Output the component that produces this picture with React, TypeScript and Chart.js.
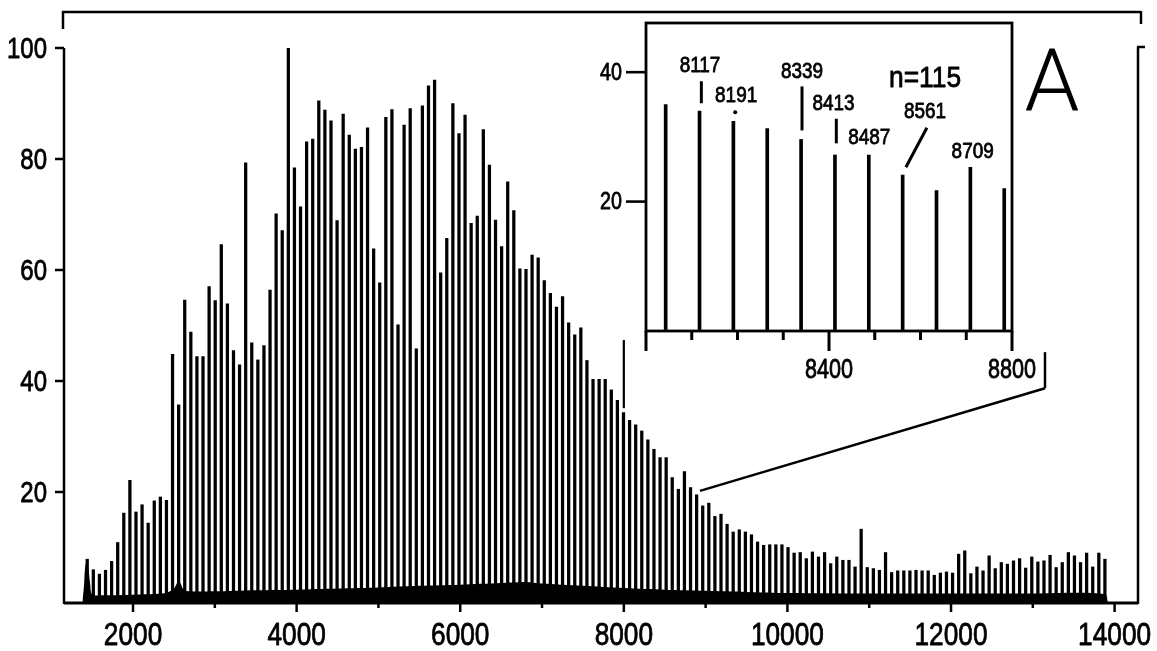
import React, { useEffect, useRef } from "react";
import { Chart, registerables } from "chart.js";

Chart.register(...registerables);

// ---------- main spectrum data ----------
const PEAK_FIRST_MASS = 1440; // mass of first peak (Da)
const PEAK_SPACING = 74.5; // ladder spacing as read on the main axis
const PEAK_HEIGHTS = [
  7.9, 6.0, 5.2, 5.9, 7.5, 10.9, 16.2, 22.1, 16.4, 17.7, 14.4, 18.4, 19.1, 18.5,
  44.8, 35.7, 54.6, 48.8, 44.4, 44.4, 57.0, 54.5, 64.6, 53.9, 45.5, 42.9,
  79.3, 46.9, 43.8, 46.4, 56.4, 70.1, 67.1, 100, 78.4, 71.4, 83.1, 83.6, 90.5,
  88.8, 86.9, 68.9, 88.1, 84.3, 81.8, 82.1, 85.6, 63.8, 57.7, 87.5, 88.9, 50.1,
  86.1, 89.1, 45.8, 89.6, 93.2, 94.2, 59.5, 65.7, 90.0, 84.6, 87.9, 68.4, 69.7,
  85.3, 78.9, 69.0, 64.2, 75.9, 70.7, 60.2, 60.1, 62.7, 62.2, 58.1, 55.8, 53.3,
  55.2, 50.5, 48.3, 49.6, 43.7, 40.3, 40.3, 40.3, 38.4, 36.5, 34.3, 32.9, 32.1,
  31.0, 29.4, 27.7, 26.2, 26.2, 22.6, 20.5, 23.7, 20.8, 19.5, 17.5, 18.0, 15.6,
  16.0, 14.2, 12.8, 13.2, 12.8, 12.3, 11.0, 10.4, 10.5, 10.5, 10.5, 10.0, 9.0,
  9.1, 8.0, 9.2, 8.3, 9.1, 7.1, 8.3, 7.7, 7.7, 6.5, 13.3, 6.4, 6.2, 5.9, 9.1,
  5.5, 5.8, 5.8, 5.8, 5.9, 5.8, 5.8, 5.0, 5.4, 5.6, 5.4, 8.8, 9.4, 5.3, 6.5,
  5.8, 8.5, 6.2, 7.3, 7.0, 7.6, 8.0, 6.3, 8.3, 7.4, 7.6, 8.6, 6.4, 7.3, 9.1,
  8.5, 7.3, 9.0, 6.5, 9.0, 7.9,
];

// baseline "grass" envelope
const NOISE_MASSES = [
  1380, 1400, 1420, 1450, 1475, 1500, 1600, 2000, 2400, 2500, 2560, 2620, 2700,
  3000, 3500, 4000, 4500, 5000, 5500, 6000, 6500, 6800, 7000, 7500, 8000, 8500,
  9000, 9500, 10000, 11000, 12000, 13000, 13880, 13920,
];
const NOISE_LEVELS = [
  0, 3, 7, 6.5, 3.5, 1.5, 1.4, 1.5, 1.8, 2.6, 4.0, 2.4, 2.1, 2.1, 2.3, 2.4, 2.6,
  2.8, 3.1, 3.3, 3.6, 3.8, 3.5, 3.1, 2.7, 2.4, 2.2, 2.0, 1.8, 1.7, 1.7, 1.7, 1.6,
  0,
];

const X_MIN = 1156;
const X_MAX = 14286;
const X_TICKS = [2000, 3000, 4000, 5000, 6000, 7000, 8000, 9000, 10000, 11000, 12000, 13000, 14000];
const X_LABELS = [2000, 4000, 6000, 8000, 10000, 12000, 14000];
const Y_TICKS = [20, 40, 60, 80, 100];

// callout (in main data units): bracket + connector line
const CALLOUT_LEFT = { mass: 8000, from: 47.4, to: 35.1 };
const CALLOUT_RIGHT = { mass: 13149, from: 45.2, to: 38.7 };
const CALLOUT_END = { mass: 8931, value: 20.2 };

// ---------- inset data ----------
const INSET_MASSES = [8043, 8117, 8191, 8265, 8339, 8413, 8487, 8561, 8635, 8709, 8783];
const INSET_HEIGHTS = [35.0, 34.0, 32.4, 31.3, 29.6, 27.2, 27.2, 24.1, 21.7, 25.3, 22.0];
const INSET_X_TICKS = [8000, 8100, 8200, 8300, 8400, 8500, 8600, 8700, 8800];
const INSET_X_LABELS = [8400, 8800];
const INSET_Y_TICKS = [20, 40];
const INSET_LABEL_TEXTS = ["8117", "8191", "8339", "8413", "8487", "8561", "8709"];
const INSET_LABEL_MASSES = [8118, 8197, 8341, 8410, 8488, 8610, 8714];
const INSET_LABEL_VALUES = [40.9, 36.4, 40.1, 35.1, 29.9, 33.8, 27.6];
const INSET_MARKERS = [
  { m1: 8121, v1: 38.6, m2: 8121, v2: 35.2 },
  { m1: 8341, v1: 37.8, m2: 8341, v2: 31.0 },
  { m1: 8416, v1: 32.8, m2: 8416, v2: 29.0 },
  { m1: 8614, v1: 31.4, m2: 8568, v2: 25.3 },
];
const INSET_DOT = { mass: 8195, value: 33.8 };
const INSET_N_TEXT = "n=115";
const INSET_N_POS = { mass: 8610, value: 39.0 };
const PANEL_LETTER = "A";

const SANS = '"Liberation Sans", Arial, sans-serif';

function seg(ctx: CanvasRenderingContext2D, x1: number, y1: number, x2: number, y2: number, w = 2.5) {
  ctx.lineWidth = w;
  ctx.beginPath();
  ctx.moveTo(x1, y1);
  ctx.lineTo(x2, y2);
  ctx.stroke();
}

// horizontally condensed text (narrow grotesque look), slightly emboldened like the scan
function cText(
  ctx: CanvasRenderingContext2D,
  text: string,
  x: number,
  y: number,
  size: number,
  sx: number,
  align: CanvasTextAlign
) {
  ctx.save();
  ctx.font = `${size}px ${SANS}`;
  ctx.textAlign = align;
  ctx.textBaseline = "middle";
  ctx.translate(x, y);
  ctx.scale(sx, 1);
  ctx.fillText(text, 0, 0);
  ctx.lineWidth = 0.8;
  ctx.lineJoin = "round";
  ctx.strokeText(text, 0, 0);
  ctx.restore();
}

const mainDecor = {
  id: "mainDecor",
  afterDraw(chart: any) {
    const { ctx, chartArea: a, scales } = chart;
    const xs = scales.x;
    const ys = scales.y;
    ctx.save();
    ctx.strokeStyle = "#000";
    ctx.fillStyle = "#000";
    ctx.lineCap = "butt";
    // frame
    seg(ctx, a.left - 2, a.top - 36, a.right + 3, a.top - 36, 2.5);
    seg(ctx, a.left - 1, a.top - 37, a.left - 1, a.top - 19, 2.5);
    seg(ctx, a.right + 3, a.top - 37, a.right + 3, a.top - 24, 2.5);
    seg(ctx, a.left, a.top, a.left, a.bottom + 1, 2.5);
    seg(ctx, a.right, a.top - 1, a.right, a.bottom + 1, 2.5);
    seg(ctx, a.right - 1, a.top - 1, a.right + 7, a.top - 1, 2.5);
    seg(ctx, a.left, a.bottom, a.right, a.bottom, 3);
    // y ticks + labels
    Y_TICKS.forEach((v) => {
      const y = ys.getPixelForValue(v);
      seg(ctx, a.left - 9, y, a.left, y, 2.5);
      cText(ctx, String(v), a.left - 17, y + 2, 30, 0.8, "right");
    });
    // x ticks + labels
    X_TICKS.forEach((m) => {
      const x = xs.getPixelForValue(m);
      const major = X_LABELS.includes(m);
      seg(ctx, x, a.bottom, x, a.bottom + (major ? 9 : 5), 2.5);
    });
    X_LABELS.forEach((m) => {
      cText(ctx, String(m), xs.getPixelForValue(m), a.bottom + 33, 32, 0.82, "center");
    });
    // callout
    const lx = xs.getPixelForValue(CALLOUT_LEFT.mass);
    seg(ctx, lx, ys.getPixelForValue(CALLOUT_LEFT.from), lx, ys.getPixelForValue(CALLOUT_LEFT.to), 2.2);
    const rx = xs.getPixelForValue(CALLOUT_RIGHT.mass);
    seg(ctx, rx, ys.getPixelForValue(CALLOUT_RIGHT.from), rx, ys.getPixelForValue(CALLOUT_RIGHT.to), 2.5);
    seg(
      ctx,
      rx,
      ys.getPixelForValue(CALLOUT_RIGHT.to),
      xs.getPixelForValue(CALLOUT_END.mass),
      ys.getPixelForValue(CALLOUT_END.value),
      2.5
    );
    // panel letter
    ctx.font = `300 88px Roboto, "Liberation Sans", sans-serif`;
    ctx.textAlign = "center";
    ctx.textBaseline = "alphabetic";
    ctx.fillText(PANEL_LETTER, a.right - 86, a.top + 62);
    ctx.restore();
  },
};

const insetDecor = {
  id: "insetDecor",
  afterDraw(chart: any) {
    const { ctx, chartArea: a, scales } = chart;
    const xs = scales.x;
    const ys = scales.y;
    ctx.save();
    ctx.strokeStyle = "#000";
    ctx.fillStyle = "#000";
    ctx.lineWidth = 2.8;
    ctx.strokeRect(a.left, a.top, a.right - a.left, a.bottom - a.top);
    // y ticks + labels
    INSET_Y_TICKS.forEach((v) => {
      const y = ys.getPixelForValue(v);
      seg(ctx, a.left - 20, y, a.left, y, 2.6);
      cText(ctx, String(v), a.left - 24, y + 1, 24, 0.82, "right");
    });
    // x ticks
    INSET_X_TICKS.forEach((m) => {
      const x = xs.getPixelForValue(m);
      const major = m % 400 === 0;
      seg(ctx, x, a.bottom, x, a.bottom + (major ? 20 : 9), 3);
    });
    INSET_X_LABELS.forEach((m) => {
      cText(ctx, String(m), xs.getPixelForValue(m), a.bottom + 40, 27, 0.8, "center");
    });
    // peak labels
    INSET_LABEL_TEXTS.forEach((t, i) => {
      cText(
        ctx,
        t,
        xs.getPixelForValue(INSET_LABEL_MASSES[i]),
        ys.getPixelForValue(INSET_LABEL_VALUES[i]),
        22,
        0.86,
        "center"
      );
    });
    INSET_MARKERS.forEach((mk) => {
      seg(
        ctx,
        xs.getPixelForValue(mk.m1),
        ys.getPixelForValue(mk.v1),
        xs.getPixelForValue(mk.m2),
        ys.getPixelForValue(mk.v2),
        3
      );
    });
    ctx.beginPath();
    ctx.arc(xs.getPixelForValue(INSET_DOT.mass), ys.getPixelForValue(INSET_DOT.value), 2, 0, Math.PI * 2);
    ctx.fill();
    cText(
      ctx,
      INSET_N_TEXT,
      xs.getPixelForValue(INSET_N_POS.mass),
      ys.getPixelForValue(INSET_N_POS.value),
      30,
      0.88,
      "center"
    );
    ctx.restore();
  },
};

export default function App() {
  const mainRef = useRef<HTMLCanvasElement>(null);
  const insetRef = useRef<HTMLCanvasElement>(null);

  useEffect(() => {
    const peaks = PEAK_HEIGHTS.map((h, i) => ({ x: PEAK_FIRST_MASS + i * PEAK_SPACING, y: h }));
    const noise = NOISE_MASSES.map((m, i) => ({ x: m, y: NOISE_LEVELS[i] }));
    const main = new Chart(mainRef.current as HTMLCanvasElement, {
      type: "bar",
      data: {
        datasets: [
          {
            type: "line",
            data: noise,
            fill: "origin",
            backgroundColor: "#000",
            borderColor: "#000",
            borderWidth: 0,
            pointRadius: 0,
            tension: 0.3,
          } as any,
          {
            type: "bar",
            data: peaks,
            backgroundColor: "#000",
            borderWidth: 0,
            barThickness: 2.6,
            grouped: false,
          } as any,
        ],
      },
      options: {
        animation: false,
        responsive: false,
        maintainAspectRatio: false,
        devicePixelRatio: 1,
        layout: { padding: { left: 64, right: 19, top: 48, bottom: 48 } },
        plugins: { legend: { display: false }, tooltip: { enabled: false } },
        events: [],
        scales: {
          x: { type: "linear", min: X_MIN, max: X_MAX, offset: false, display: false },
          y: { type: "linear", min: 0, max: 100, display: false },
        },
      },
      plugins: [mainDecor],
    });

    const inset = new Chart(insetRef.current as HTMLCanvasElement, {
      type: "bar",
      data: {
        datasets: [
          {
            data: INSET_MASSES.map((m, i) => ({ x: m, y: INSET_HEIGHTS[i] })),
            backgroundColor: "#000",
            borderWidth: 0,
            barThickness: 3,
            grouped: false,
          } as any,
        ],
      },
      options: {
        animation: false,
        responsive: false,
        maintainAspectRatio: false,
        devicePixelRatio: 1,
        layout: { padding: { left: 86, right: 68, top: 23, bottom: 69 } },
        plugins: { legend: { display: false }, tooltip: { enabled: false } },
        events: [],
        scales: {
          x: { type: "linear", min: 8000, max: 8800, offset: false, display: false },
          y: { type: "linear", min: 0, max: 47.6, display: false },
        },
      },
      plugins: [insetDecor],
    });

    return () => {
      main.destroy();
      inset.destroy();
    };
  }, []);

  return (
    <div style={{ position: "absolute", left: 0, top: 0, width: 1157, height: 651, background: "#fff" }}>
      <canvas ref={mainRef} width={1157} height={651} style={{ position: "absolute", left: 0, top: 0 }} />
      <canvas ref={insetRef} width={520} height={400} style={{ position: "absolute", left: 560, top: 0 }} />
    </div>
  );
}
